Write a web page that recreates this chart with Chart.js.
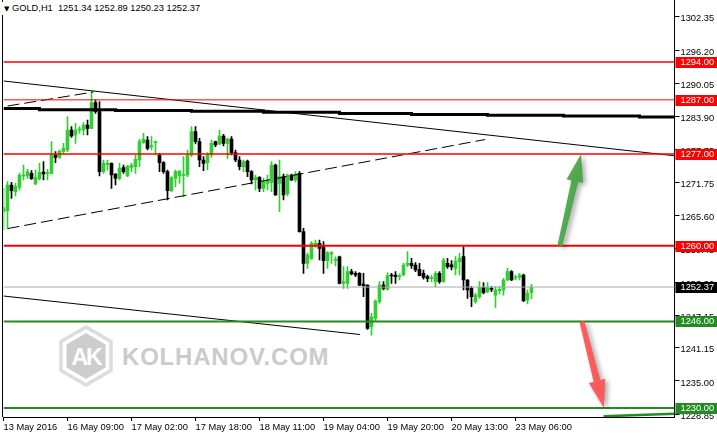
<!DOCTYPE html>
<html>
<head>
<meta charset="utf-8">
<script src="https://cdn.jsdelivr.net/npm/chart.js@4.4.0/dist/chart.umd.min.js"></script>
<style>
  html, body { margin: 0; padding: 0; background: #fff; }
  #wrap { position: relative; width: 717px; height: 438px; overflow: hidden; }
  #mark { position: absolute; left: 0; top: 0; }
  #c { position: absolute; left: 0; top: 0; }
  #head {
    position: absolute; left: 2px; top: 2px; height: 13px; padding: 0 4px 0 2px;
    background: #fff; font: 9.3px "Liberation Sans", sans-serif; line-height: 13px;
    color: #000; white-space: pre;
  }
  #head .tri { font: 7px "DejaVu Sans", sans-serif; }
</style>
</head>
<body>
<div id="wrap">
  <svg id="mark" width="717" height="438">
    <polygon points="86,327 111,341.5 111,370.5 86,385 61,370.5 61,341.5" fill="none" stroke="#dcdcdc" stroke-width="3.5"/>
    <polygon points="86,333 105.5,344.5 105.5,367.5 86,379 66.5,367.5 66.5,344.5" fill="#cdcdcd"/>
    <text x="86" y="365" text-anchor="middle" font-family="Liberation Sans" font-weight="bold" font-size="23" fill="#fff" letter-spacing="-2">AK</text>
    <text x="122" y="365" font-family="Liberation Sans" font-weight="bold" font-size="24" fill="#cbcbcb" letter-spacing="0.8">KOLHANOV.COM</text>
  </svg>
  <canvas id="c" width="717" height="438"></canvas>
  <div id="head"><span class="tri">▼</span> GOLD,H1  1251.34 1252.89 1250.23 1252.37</div>
</div>
<script>
// H1 candles (oldest first)
const opens = [
  1266.31, 1266.50, 1271.24, 1270.01, 1270.81, 1272.91, 1272.91, 1273.40, 1271.43, 1272.35,
  1273.65, 1273.34, 1273.40, 1276.79, 1276.36, 1277.41, 1277.72, 1281.42, 1280.49, 1281.42,
  1281.42, 1282.34, 1281.73, 1286.48, 1284.81, 1273.71, 1275.01, 1275.25, 1273.28, 1272.48,
  1274.45, 1272.91, 1274.51, 1274.64, 1275.87, 1279.08, 1279.57, 1278.34, 1279.08, 1276.79,
  1275.38, 1273.71, 1270.20, 1272.48, 1272.91, 1272.97, 1273.09, 1276.79, 1281.11, 1279.26,
  1275.87, 1275.38, 1276.79, 1279.26, 1278.83, 1280.31, 1278.95, 1279.75, 1277.23, 1275.87,
  1274.64, 1275.68, 1273.71, 1272.17, 1272.66, 1270.63, 1271.55, 1271.68, 1274.94, 1271.55,
  1272.79, 1269.58, 1273.09, 1272.17, 1273.40, 1262.61, 1256.75, 1257.68, 1260.14, 1260.45,
  1259.84, 1257.24, 1258.48, 1257.24, 1257.98, 1253.05, 1253.05, 1255.21, 1254.90, 1254.90,
  1252.93, 1252.74, 1245.04, 1246.58, 1249.66, 1252.74, 1251.94, 1254.59, 1254.59, 1254.29,
  1254.59, 1256.44, 1256.75, 1256.44, 1255.64, 1254.90, 1254.29, 1253.90, 1253.36, 1254.90,
  1253.36, 1256.75, 1256.50, 1255.83, 1257.06, 1257.99, 1253.67, 1252.13, 1249.66, 1250.59,
  1252.31, 1251.51, 1252.13, 1250.89, 1251.70, 1251.82, 1253.67, 1255.21, 1254.04, 1254.16,
  1254.59, 1249.97, 1251.34
];
const highs = [
  1270.63, 1271.86, 1271.74, 1271.55, 1273.40, 1274.94, 1274.14, 1273.90, 1274.02, 1275.25,
  1275.56, 1274.14, 1279.26, 1277.41, 1277.72, 1278.95, 1283.89, 1282.04, 1282.65, 1282.04,
  1282.78, 1283.27, 1288.51, 1286.97, 1286.66, 1275.87, 1275.87, 1275.35, 1273.35, 1275.25,
  1274.94, 1274.85, 1275.25, 1276.79, 1279.69, 1280.80, 1280.19, 1280.19, 1279.38, 1277.10,
  1275.56, 1274.02, 1272.79, 1274.02, 1273.90, 1276.49, 1277.72, 1282.04, 1282.04, 1279.88,
  1276.49, 1277.23, 1279.57, 1279.35, 1281.42, 1280.62, 1279.88, 1280.19, 1277.72, 1276.49,
  1275.87, 1275.87, 1273.90, 1273.09, 1272.79, 1272.48, 1273.09, 1275.56, 1275.13, 1275.87,
  1273.28, 1273.28, 1273.28, 1273.71, 1273.71, 1263.23, 1258.60, 1260.76, 1261.07, 1261.07,
  1260.76, 1258.91, 1258.91, 1257.98, 1258.10, 1256.14, 1256.14, 1255.64, 1255.21, 1255.03,
  1254.90, 1252.80, 1247.50, 1249.97, 1253.36, 1253.36, 1255.03, 1254.90, 1255.21, 1254.78,
  1256.75, 1258.91, 1257.68, 1256.88, 1256.75, 1255.52, 1254.59, 1254.59, 1255.21, 1255.21,
  1257.68, 1257.68, 1257.25, 1257.99, 1258.60, 1259.84, 1253.75, 1252.44, 1251.20, 1253.36,
  1253.18, 1253.18, 1252.44, 1252.44, 1252.44, 1253.98, 1255.83, 1255.40, 1254.59, 1254.90,
  1254.78, 1251.82, 1252.89
];
const lows = [
  1262.92, 1263.23, 1268.78, 1269.21, 1270.32, 1272.17, 1272.48, 1272.29, 1271.30, 1272.17,
  1272.17, 1272.17, 1273.30, 1275.38, 1276.18, 1276.98, 1277.41, 1280.06, 1278.95, 1280.80,
  1280.49, 1280.49, 1281.60, 1284.50, 1272.91, 1273.40, 1274.02, 1270.63, 1271.24, 1272.17,
  1273.40, 1272.79, 1273.71, 1273.40, 1274.64, 1278.95, 1277.72, 1277.72, 1276.79, 1273.71,
  1273.40, 1268.47, 1270.01, 1270.94, 1271.55, 1269.09, 1272.79, 1276.49, 1278.83, 1274.64,
  1273.90, 1274.02, 1276.36, 1278.34, 1278.64, 1278.46, 1276.18, 1276.79, 1275.56, 1274.02,
  1273.71, 1272.79, 1271.43, 1270.32, 1270.01, 1270.01, 1270.32, 1270.01, 1269.30, 1266.31,
  1268.47, 1269.21, 1272.05, 1271.86, 1262.50, 1254.90, 1255.83, 1257.49, 1259.71, 1257.37,
  1254.90, 1255.83, 1256.75, 1256.26, 1252.93, 1252.13, 1252.13, 1254.59, 1254.29, 1252.62,
  1250.58, 1244.54, 1243.49, 1245.96, 1249.35, 1251.82, 1251.82, 1253.05, 1253.05, 1253.67,
  1254.47, 1256.14, 1255.83, 1255.21, 1254.41, 1253.85, 1253.36, 1253.36, 1252.44, 1253.05,
  1253.24, 1255.83, 1255.52, 1254.59, 1254.59, 1251.82, 1250.28, 1248.74, 1249.35, 1250.28,
  1251.08, 1251.33, 1251.51, 1248.61, 1251.08, 1250.89, 1253.55, 1253.55, 1253.67, 1253.67,
  1249.66, 1249.23, 1250.23
];
const closes = [
  1267.05, 1271.24, 1270.20, 1270.94, 1273.09, 1273.09, 1273.71, 1272.42, 1272.60, 1273.59,
  1273.28, 1273.46, 1276.79, 1276.36, 1277.53, 1278.03, 1281.42, 1280.31, 1281.42, 1281.60,
  1282.34, 1281.73, 1286.48, 1284.81, 1273.71, 1275.25, 1275.25, 1273.09, 1272.48, 1274.33,
  1273.71, 1274.76, 1274.94, 1275.99, 1279.26, 1279.69, 1278.03, 1278.46, 1279.26, 1275.38,
  1273.71, 1270.20, 1272.60, 1273.71, 1273.83, 1273.09, 1276.79, 1281.11, 1279.26, 1275.87,
  1275.25, 1276.79, 1278.95, 1278.64, 1280.31, 1278.95, 1279.75, 1277.23, 1275.87, 1274.64,
  1275.56, 1273.71, 1272.17, 1272.66, 1270.63, 1271.86, 1272.17, 1274.94, 1269.39, 1272.79,
  1269.39, 1273.09, 1272.17, 1273.28, 1262.61, 1256.75, 1258.29, 1260.45, 1260.45, 1259.53,
  1257.24, 1258.73, 1258.73, 1257.49, 1253.05, 1253.36, 1255.21, 1254.78, 1254.59, 1252.74,
  1252.62, 1244.73, 1246.88, 1249.78, 1252.74, 1252.13, 1254.47, 1254.41, 1254.29, 1254.47,
  1256.44, 1256.75, 1256.32, 1255.52, 1254.47, 1254.16, 1253.98, 1254.10, 1254.90, 1253.36,
  1257.37, 1256.14, 1256.10, 1257.19, 1257.68, 1253.67, 1251.82, 1250.59, 1250.89, 1252.31,
  1251.33, 1252.31, 1251.94, 1251.82, 1251.94, 1253.67, 1255.21, 1253.67, 1254.16, 1254.59,
  1249.85, 1251.20, 1252.37
];

// time axis: bar index -> label
const timeIdx = [0, 16, 32, 48, 64, 80, 96, 112, 128];
const timeLabels = ['13 May 2016', '16 May 09:00', '17 May 02:00', '17 May 18:00', '18 May 11:00',
  '19 May 04:00', '19 May 20:00', '20 May 13:00', '23 May 06:00'];
const priceTicks = [1302.35, 1296.20, 1290.05, 1283.90, 1277.75, 1271.75, 1265.60, 1259.45,
  1253.30, 1247.15, 1241.15, 1235.00, 1228.85];

// horizontal levels
const redLevels = [1294, 1287, 1277, 1260];
const greenLevels = [1246, 1230];
const bidPrice = 1252.37;

// trend lines [barIndex, price]
const trendTop = [[0, 1290.49], [167.75, 1276.65]];
const trendDashUpper = [[1, 1285.86], [22.5, 1288.45]];
const trendDashLower = [[1, 1263.18], [120.4, 1279.66]];
const trendLow = [[0, 1250.71], [89.1, 1243.59]];
const greenFoot = [[150, 1228.45], [167.75, 1228.95]];
// thick stepped average
const stepX = [0, 9, 28, 47, 65, 84, 102, 121, 140, 159, 167.75];
const stepY = [1285.40, 1285.18, 1285.03, 1284.90, 1284.71, 1284.47, 1284.29, 1284.14, 1284.01, 1283.83, 1283.83];
// arrows [from, to]
const arrowUp = [[139.1, 1260], [144.4, 1277]];
const arrowDown = [[144.6, 1246], [150.1, 1230]];

const X_MAX = 167.75;
const FONT = { family: 'Liberation Sans', size: 9.3 };

const barIdx = opens.map((_, i) => i);
const bodies = barIdx.map(i => ({ x: i, y: [opens[i], closes[i]] }));
const wicks = barIdx.map(i => ({ x: i, y: [lows[i], highs[i]] }));
const candleColors = barIdx.map(i => closes[i] >= opens[i] ? '#32cd32' : '#000000');

const pts = arr => arr.map(p => ({ x: p[0], y: p[1] }));
const hline = p => [{ x: 0, y: p }, { x: X_MAX, y: p }];

function lineSet(data, color, width, extra) {
  return Object.assign({
    type: 'line', data, borderColor: color, borderWidth: width,
    pointRadius: 0, fill: false, tension: 0, order: 1
  }, extra || {});
}

function drawArrow(ctx, x1, y1, x2, y2, color) {
  const ang = Math.atan2(y2 - y1, x2 - x1);
  const len = Math.hypot(x2 - x1, y2 - y1);
  const headL = 28, headW = 8.5;
  ctx.save();
  ctx.translate(x1, y1);
  ctx.rotate(ang);
  ctx.beginPath();
  ctx.moveTo(0, -2.5);
  ctx.lineTo(len - headL, -3.5);
  ctx.lineTo(len - headL, -headW);
  ctx.lineTo(len, 0);
  ctx.lineTo(len - headL, headW);
  ctx.lineTo(len - headL, 3.5);
  ctx.lineTo(0, 2.5);
  ctx.closePath();
  ctx.shadowColor = 'rgba(0,0,0,0.35)';
  ctx.shadowBlur = 5;
  ctx.shadowOffsetX = 3;
  ctx.shadowOffsetY = 2;
  ctx.fillStyle = color;
  ctx.fill();
  ctx.restore();
}

const decor = {
  id: 'decor',
  afterDatasetsDraw(chart) {
    const { ctx, chartArea, scales: { x, y } } = chart;
    ctx.save();
    ctx.beginPath();
    ctx.rect(chartArea.left, chartArea.top, chartArea.right - chartArea.left, chartArea.bottom - chartArea.top);
    ctx.clip();
    drawArrow(ctx, x.getPixelForValue(arrowUp[0][0]), y.getPixelForValue(arrowUp[0][1]),
      x.getPixelForValue(arrowUp[1][0]), y.getPixelForValue(arrowUp[1][1]), 'rgba(70,165,70,0.92)');
    drawArrow(ctx, x.getPixelForValue(arrowDown[0][0]), y.getPixelForValue(arrowDown[0][1]),
      x.getPixelForValue(arrowDown[1][0]), y.getPixelForValue(arrowDown[1][1]), 'rgba(255,85,85,0.95)');
    ctx.restore();
  },
  afterDraw(chart) {
    const { ctx, chartArea, scales: { y } } = chart;
    // left frame line
    ctx.save();
    ctx.strokeStyle = '#000';
    ctx.lineWidth = 1;
    ctx.beginPath();
    ctx.moveTo(chartArea.left - 1, chartArea.top);
    ctx.lineTo(chartArea.left - 1, chartArea.bottom);
    ctx.stroke();
    // price boxes on the axis
    const boxes = redLevels.map(p => [p, '#ff0000'])
      .concat([[bidPrice, '#000000']])
      .concat(greenLevels.map(p => [p, '#228b22']));
    ctx.font = FONT.size + 'px ' + FONT.family;
    ctx.textBaseline = 'middle';
    ctx.textAlign = 'left';
    boxes.forEach(([p, col]) => {
      const py = Math.round(y.getPixelForValue(p));
      ctx.fillStyle = col;
      ctx.fillRect(chartArea.right + 1, py - 5, 717 - chartArea.right, 11);
      ctx.fillStyle = '#fff';
      ctx.fillText(p.toFixed(2), chartArea.right + 6, py + 0.5);
    });
    ctx.restore();
  }
};

new Chart(document.getElementById('c'), {
  type: 'bar',
  data: {
    datasets: [
      { type: 'bar', data: wicks, backgroundColor: candleColors, barThickness: 1, grouped: false, order: 5 },
      { type: 'bar', data: bodies, backgroundColor: candleColors, barThickness: 3, minBarLength: 1, grouped: false, order: 4 },
      lineSet(hline(bidPrice), '#aaaaaa', 1),
      lineSet(hline(redLevels[0]), '#ff0000', 1.5),
      lineSet(hline(redLevels[1]), '#ff0000', 1),
      lineSet(hline(redLevels[2]), '#ff0000', 1.5),
      lineSet(hline(redLevels[3]), '#ff0000', 2),
      lineSet(hline(greenLevels[0]), '#228b22', 2),
      lineSet(hline(greenLevels[1]), '#228b22', 2),
      lineSet(pts(greenFoot), '#228b22', 2.5),
      lineSet(pts(trendTop), '#000', 1),
      lineSet(pts(trendLow), '#000', 1),
      lineSet(pts(trendDashUpper), '#000', 1, { borderDash: [12, 5] }),
      lineSet(pts(trendDashLower), '#000', 1, { borderDash: [12, 5] }),
      lineSet(stepX.map((v, i) => ({ x: v, y: stepY[i] })), '#000', 3, { stepped: true })
    ]
  },
  options: {
    responsive: false,
    animation: false,
    devicePixelRatio: 1,
    layout: { padding: { left: 3.5, top: 0, right: 0, bottom: 0 } },
    plugins: { legend: { display: false }, tooltip: { enabled: false } },
    scales: {
      x: {
        type: 'linear', min: 0, max: X_MAX, offset: false,
        afterFit: s => { s.height = 21; s.paddingLeft = 0; s.paddingRight = 0; },
        afterBuildTicks: s => { s.ticks = timeIdx.map(v => ({ value: v })); },
        grid: { drawOnChartArea: false, offset: false, tickLength: 4, color: '#000' },
        border: { color: '#000' },
        ticks: {
          autoSkip: false, maxRotation: 0, align: 'start', padding: 1, color: '#000', font: FONT,
          callback: v => timeLabels[timeIdx.indexOf(v)]
        }
      },
      y: {
        type: 'linear', position: 'right', min: 1228.33, max: 1305.47, beginAtZero: false,
        afterFit: s => { s.width = 42.5; s.paddingTop = 0; s.paddingBottom = 0; },
        afterBuildTicks: s => { s.ticks = priceTicks.map(v => ({ value: v })); },
        grid: { drawOnChartArea: false, tickLength: 5, color: '#000' },
        border: { color: '#000' },
        ticks: {
          padding: 1, labelOffset: 2, color: '#000', font: FONT,
          callback: v => v.toFixed(2)
        }
      }
    }
  },
  plugins: [decor]
});
</script>
</body>
</html>
